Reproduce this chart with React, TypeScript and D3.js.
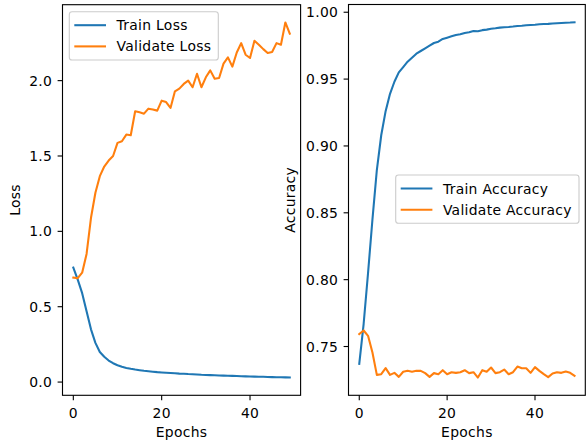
import React from "react";
import * as d3 from "d3";

const epochs: number[] = Array.from({ length: 50 }, (_, i) => i);

const trainLoss: number[] = [
  0.76, 0.68, 0.59, 0.47, 0.35, 0.26, 0.2, 0.168, 0.143, 0.125,
  0.112, 0.102, 0.094, 0.088, 0.083, 0.079, 0.075, 0.072, 0.069, 0.066,
  0.064, 0.062, 0.06, 0.058, 0.056, 0.055, 0.053, 0.052, 0.05, 0.048,
  0.047, 0.046, 0.045, 0.044, 0.043, 0.042, 0.041, 0.04, 0.039, 0.038,
  0.037, 0.036, 0.035, 0.035, 0.034, 0.033, 0.032, 0.032, 0.031, 0.03,
];

const valLoss: number[] = [
  0.693, 0.689, 0.726, 0.85, 1.09, 1.256, 1.366, 1.43, 1.47, 1.5,
  1.587, 1.598, 1.642, 1.638, 1.797, 1.79, 1.781, 1.814, 1.808, 1.801,
  1.867, 1.858, 1.819, 1.929, 1.947, 1.978, 2.0, 1.956, 2.046, 1.956,
  2.022, 2.068, 2.013, 2.017, 2.113, 2.154, 2.093, 2.187, 2.249, 2.172,
  2.15, 2.265, 2.238, 2.209, 2.183, 2.19, 2.249, 2.238, 2.386, 2.311,
];

const trainAcc: number[] = [
  0.737, 0.767, 0.805, 0.845, 0.882, 0.908, 0.926, 0.939, 0.948, 0.955,
  0.959, 0.963, 0.966, 0.969, 0.971, 0.973, 0.975, 0.977, 0.978, 0.98,
  0.981, 0.982, 0.983, 0.9835, 0.9845, 0.985, 0.986, 0.9858, 0.9866, 0.987,
  0.9876, 0.988, 0.9885, 0.9888, 0.989, 0.9893, 0.9897, 0.9899, 0.9902, 0.9905,
  0.9906, 0.991, 0.9912, 0.9913, 0.9916, 0.9918, 0.992, 0.9922, 0.9923, 0.9925,
];

const valAcc: number[] = [
  0.7593, 0.762, 0.758, 0.7455, 0.7288, 0.7293, 0.7338, 0.7288, 0.7303, 0.7273,
  0.7311, 0.7318, 0.7311, 0.7318, 0.7318, 0.7301, 0.7273, 0.7301, 0.7293, 0.7323,
  0.7293, 0.7308, 0.7303, 0.7308, 0.7323, 0.7301, 0.7308, 0.7268, 0.7323, 0.7311,
  0.7343, 0.7301, 0.7308, 0.7328, 0.7293, 0.7308, 0.735, 0.7338, 0.7338, 0.7303,
  0.7346, 0.7318, 0.7293, 0.7271, 0.7298, 0.7308, 0.7303, 0.7313, 0.7303, 0.7281,
];

const xTicks: number[] = [0, 20, 40];
const lossTicks: number[] = [0.0, 0.5, 1.0, 1.5, 2.0];
const accTicks: number[] = [0.75, 0.8, 0.85, 0.9, 0.95, 1.0];

const lossLegend: string[] = ["Train Loss", "Validate Loss"];
const accLegend: string[] = ["Train Accuracy", "Validate Accuracy"];

const BLUE = "#1f77b4";
const ORANGE = "#ff7f0e";
const FONT = "DejaVu Sans, sans-serif";
const FS = 13.9;
const LS = 0.3;

function padDomain(values: number[]): [number, number] {
  const mn = d3.min(values) as number;
  const mx = d3.max(values) as number;
  const m = (mx - mn) * 0.05;
  return [mn - m, mx + m];
}

type PanelProps = {
  x0: number;
  x1: number;
  y0: number;
  y1: number;
  series: number[][];
  yTicks: number[];
  yFmt: (v: number) => string;
  yLabel: string;
  yLabelX: number;
  legend: string[];
  legendX: number;
  legendY: number;
  legendW: number;
};

function Panel(p: PanelProps) {
  const x = d3.scaleLinear().domain(padDomain(epochs)).range([p.x0, p.x1]);
  const all = p.series.flat();
  const y = d3.scaleLinear().domain(padDomain(all)).range([p.y1, p.y0]);
  const line = d3
    .line<number>()
    .x((_, i) => x(epochs[i]))
    .y((d) => y(d));
  const colors = [BLUE, ORANGE];
  const cx = (p.x0 + p.x1) / 2;
  const cy = (p.y0 + p.y1) / 2;
  return (
    <g>
      {p.series.map((s, k) => (
        <path
          key={k}
          d={line(s) || ""}
          fill="none"
          stroke={colors[k]}
          strokeWidth={2.08}
          strokeLinejoin="round"
          strokeLinecap="square"
        />
      ))}
      <rect
        x={p.x0}
        y={p.y0}
        width={p.x1 - p.x0}
        height={p.y1 - p.y0}
        fill="none"
        stroke="#000"
        strokeWidth={1.11}
      />
      {xTicks.map((t) => (
        <g key={"x" + t}>
          <line x1={x(t)} x2={x(t)} y1={p.y1} y2={p.y1 + 4.9} stroke="#000" strokeWidth={1.11} />
          <text x={x(t)} y={417.7} textAnchor="middle" fontFamily={FONT} fontSize={FS} letterSpacing={LS} fill="#000">
            {t}
          </text>
        </g>
      ))}
      {p.yTicks.map((t) => (
        <g key={"y" + t}>
          <line x1={p.x0 - 4.9} x2={p.x0} y1={y(t)} y2={y(t)} stroke="#000" strokeWidth={1.11} />
          <text
            x={p.x0 - 10.3}
            y={y(t)}
            dy="0.36em"
            textAnchor="end"
            fontFamily={FONT}
            fontSize={FS}
            letterSpacing={LS}
            fill="#000"
          >
            {p.yFmt(t)}
          </text>
        </g>
      ))}
      <text x={cx} y={437} textAnchor="middle" fontFamily={FONT} fontSize={FS} letterSpacing={LS} fill="#000">
        Epochs
      </text>
      <text
        transform={`translate(${p.yLabelX},${cy}) rotate(-90)`}
        textAnchor="middle"
        fontFamily={FONT}
        fontSize={FS}
        letterSpacing={LS}
        fill="#000"
      >
        {p.yLabel}
      </text>
      <g>
        <rect
          x={p.legendX}
          y={p.legendY}
          width={p.legendW}
          height={48.3}
          rx={2.8}
          ry={2.8}
          fill="#fff"
          fillOpacity={0.8}
          stroke="#cccccc"
          strokeWidth={1.11}
        />
        {p.legend.map((name, k) => {
          const ry = p.legendY + 13.5 + k * 21.2;
          return (
            <g key={name}>
              <line
                x1={p.legendX + 5}
                x2={p.legendX + 36.7}
                y1={ry}
                y2={ry}
                stroke={colors[k]}
                strokeWidth={2.08}
              />
              <text
                x={p.legendX + 47.2}
                y={ry}
                dy="0.36em"
                fontFamily={FONT}
                fontSize={FS}
                letterSpacing={LS}
                fill="#000"
              >
                {name}
              </text>
            </g>
          );
        })}
      </g>
    </g>
  );
}

export default function App() {
  return (
    <svg
      width={586}
      height={444}
      style={{ position: "absolute", left: 0, top: 0, background: "#fff" }}
    >
      <rect x={0} y={0} width={586} height={444} fill="#fff" />
      <Panel
        x0={62.5}
        x1={300.6}
        y0={4.7}
        y1={395.3}
        series={[trainLoss, valLoss]}
        yTicks={lossTicks}
        yFmt={(v) => v.toFixed(1)}
        yLabel="Loss"
        yLabelX={20}
        legend={lossLegend}
        legendX={69.3}
        legendY={11.7}
        legendW={149}
      />
      <Panel
        x0={348.5}
        x1={585.3}
        y0={4.5}
        y1={395.3}
        series={[trainAcc, valAcc]}
        yTicks={accTicks}
        yFmt={(v) => v.toFixed(2)}
        yLabel="Accuracy"
        yLabelX={295}
        legend={accLegend}
        legendX={395.7}
        legendY={175}
        legendW={183.3}
      />
    </svg>
  );
}
